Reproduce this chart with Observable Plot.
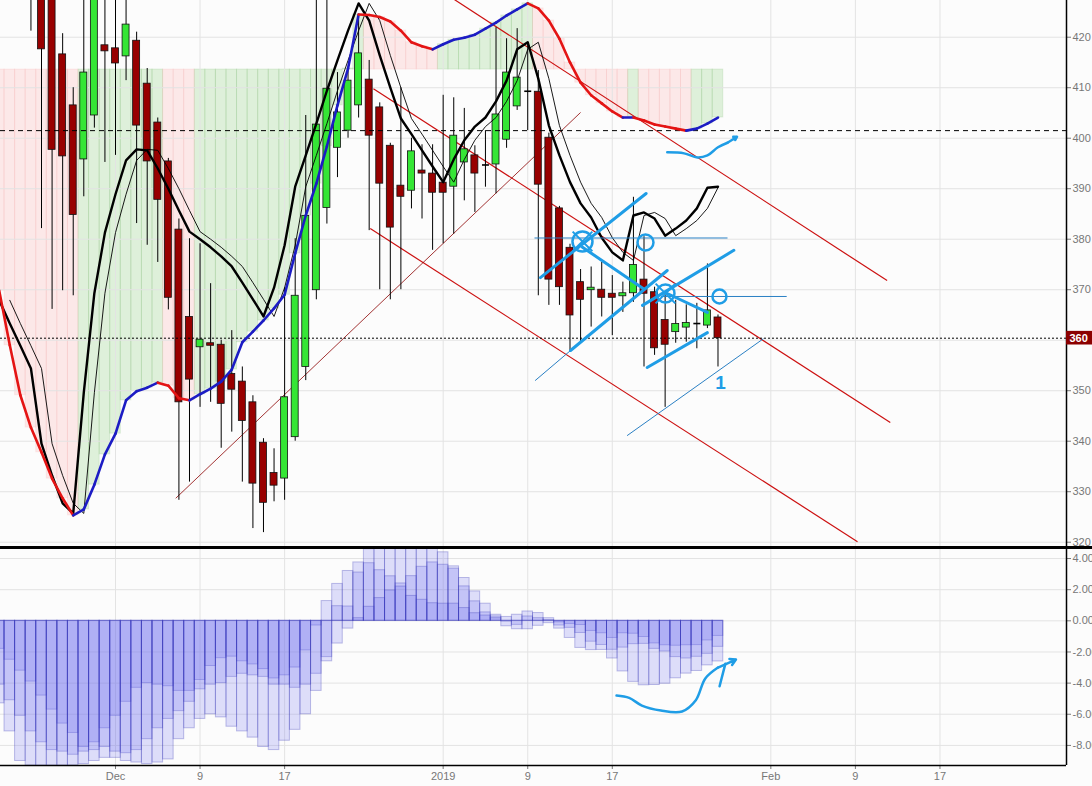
<!DOCTYPE html>
<html><head><meta charset="utf-8">
<script src="https://cdn.jsdelivr.net/npm/d3@7"></script>
<script src="https://cdn.jsdelivr.net/npm/@observablehq/plot@0.6"></script>
<style>
html,body{margin:0;padding:0;background:#fcfcfc;overflow:hidden;}
#wrap{width:1092px;height:786px;overflow:hidden;}
.sep{width:1092px;height:3px;background:#000;}
svg{display:block;}
</style></head><body><div id="wrap"></div>
<script>
// ---------- DATA ----------
const baseDate = "2018-12-01";          // day offset 0
const candleStart = "2018-11-23";       // first candle
const lineStart = "2018-11-20";         // first indicator value

const opens  = [432,432,430,416.6,406.5,395.8,404.5,418.4,417.8,416.2,419.3,410.8,403.1,395.4,381.9,364.6,358.6,359.4,359.1,353.3,351.8,347.7,339.7,333.7,332.6,340.8,354.7,369.9,386.2,398.1,401.5,406.5,411.6,406.1,398.5,390.6,389.6,393.6,393.0,391.2,390.4,395.2,396.6,394.8,394.8,399.7,406.3,409.2,409.2,400.1,386.1,378.3,371.5,369.9,370.0,369.2,368.7,369.3,372.0,369.5,364.0,361.6,362.5,363.2,362.9,364.5];
const highs  = [436,434,432,420.7,410,432,435,432,432,432,421,413.8,404,396,384,380.1,379.1,371.2,360,361.9,354.7,349,340.5,338.5,370.4,380.1,404.5,432,432,413,413.5,424,415.4,407,399,410,400,398.7,398.7,408.5,408.0,405.9,398.5,401.5,421.9,419.7,421.7,418.7,413.4,401,386.5,379,374,374.5,375.4,372.8,371.5,388.3,380.5,370.5,369.2,367.9,367,367.3,375.1,365];
const lows   = [421.2,382.1,366.1,369.8,368.8,388.4,402,395.2,396.6,411.4,383.1,378.8,375.4,366,328.3,331.9,346.7,347.7,338.6,341.8,331.9,322.7,321.9,328.0,328.3,340,352,368,383,392.2,400,404,381.7,370,368,370,386,384.0,377.8,379.1,381,387.6,385.3,390.3,389.0,398,405.5,401.5,368.8,366.9,366.9,357.6,359.6,362.6,364.6,360.9,365.5,367.5,354.7,357,346.7,359.4,359.6,358.3,362.3,354.7];
const closes = [428,417.6,397.7,396.4,384.8,413.0,432,417.2,414.8,422.5,402.5,395.4,387.8,368.4,347.7,352.2,360.1,358.9,347.4,350.2,344.0,331.6,327.8,331.2,348.7,368.8,384.6,402.7,409.8,405.1,411.4,416.8,400.5,391.0,382.3,388.4,397.4,393.0,389.2,389.2,400.5,397.8,393.0,394.7,404.7,413.0,412.0,409.3,390.8,372.0,370.5,364.9,368.0,370.4,368.4,368.4,369.3,374.9,369.2,358.4,359.1,363.2,363.4,363.3,365.9,360.4];

// fast (thick black) line, Nov 20 .. Jan 27
const fastLine = [367.9,363.3,358.9,354.4,339.5,333.2,327.7,325.7,349.6,369.3,381.3,388.9,395.6,397.8,397.6,394.0,390.0,385.7,381.5,380.0,378.4,376.6,374.6,371.4,368.1,364.7,370.4,378.8,390.4,396.6,402.9,409.4,415.4,421.3,426.7,423.3,416.4,410.0,403.9,400.8,397.6,394.4,391.3,395.8,399.6,402.3,404.1,407.3,411.4,417.6,419.0,411.8,402.5,396.6,391.3,387.1,384.3,380.3,377.4,375.8,384.7,385.3,384.1,380.7,382.1,383.7,386.1,390.2,390.4];
// trend (red/blue) line, Nov 20 .. Jan 27
const trendLine = [369.8,359.0,349.1,342.7,337.8,332.6,328.7,325.3,326.5,331.4,337.4,341.5,348.1,349.9,350.6,351.6,351.0,348.5,348.1,349.3,350.4,351.8,354.2,359.6,361.7,363.9,366.3,369.0,377.2,384.7,391.0,398.4,406.5,413.8,424.5,424.4,424.0,423.1,421.3,419.0,418.2,417.6,418.6,419.5,419.9,420.5,421.7,422.9,424.3,425.5,426.7,425.7,423.3,419.7,415.0,411.0,408.5,406.9,405.3,404.1,404.1,403.5,402.7,402.3,401.9,401.5,401.9,402.9,404.1];
const cloudLevel = 413.6;
const dashedLevel = 401.5;

// oscillator histograms, Nov 20 .. Jan 27
const oscA = [-1.8,-2.5,-3.2,-3.9,-4.8,-5.7,-6.6,-7.2,-8.1,-7.8,-6.9,-6.1,-5.2,-4.3,-4.0,-4.1,-4.2,-4.5,-4.5,-3.8,-2.9,-2.4,-2.3,-2.6,-2.8,-3.1,-3.7,-3.5,-3.0,-1.9,-0.3,1.27,2.37,3.2,3.75,4.6,4.8,4.8,4.8,4.8,4.8,4.8,4.4,3.5,2.75,1.89,1.1,0.39,0.25,0.39,0.6,0.5,0.17,-0.1,-0.2,-0.27,-0.65,-0.8,-1.1,-0.8,-0.83,-1.04,-1.45,-1.57,-1.6,-1.57,-1.56,-1.26,-0.97];
const oscB = [-4.1,-5.1,-6.1,-7.1,-7.8,-8.3,-8.4,-8.6,-8.4,-8.3,-8.1,-8.4,-8.5,-8.3,-7.6,-6.9,-6.3,-5.8,-5.2,-4.4,-4.1,-4.0,-3.6,-3.4,-3.5,-3.6,-4.1,-4.1,-4.3,-4.1,-3.4,-2.33,0.94,0.92,3.1,3.7,3.25,2.86,2.4,2.87,3.47,3.75,3.6,3.35,2.21,1.25,0.54,0.28,-0.05,-0.26,0.28,0.17,0.05,-0.3,-0.45,-0.78,-1.34,-1.55,-1.86,-1.72,-1.5,-1.48,-1.8,-1.97,-2.33,-2.42,-2.31,-2.12,-1.67];
const oscC = [-5.3,-7.1,-9.0,-9.3,-9.3,-9.3,-9.3,-9.3,-9.2,-9.0,-8.8,-8.8,-9.0,-9.1,-9.2,-9.1,-8.9,-7.6,-6.9,-6.3,-6.0,-6.2,-6.8,-7.1,-7.5,-8.1,-8.3,-7.7,-7.0,-6.0,-4.5,-2.6,-1.46,-0.5,0.17,0.9,1.46,1.95,2.2,1.6,1.35,1.13,1.1,1.1,0.82,0.49,0.34,0.17,-0.35,-0.54,-0.54,-0.32,-0.15,-0.5,-1.1,-1.74,-1.88,-1.87,-2.42,-3.25,-3.92,-4.14,-4.12,-4.04,-3.69,-3.39,-3.22,-2.86,-2.61];

const priceTicks = [320,330,340,350,360,370,380,390,400,410,420];
const oscTicks = [-8,-6,-4,-2,0,2,4];
const xTickDates = ["2018-12-01","2018-12-09","2018-12-17","2019-01-01","2019-01-09","2019-01-17","2019-02-01","2019-02-09","2019-02-17"];
const xTickLabels = ["Dec","9","17","2019","9","17","Feb","9","17"];

// drawn annotations (day offset from Dec 1, price)
const redChannel = [[31,428.9,73,371.8],[24.4,409.8,73.3,343.7],[24.1,382.1,70.2,320.1]];
const redSupport = [[5.7,328.7,44.0,405.1]];
const blueThick = [[40.2,372.4,50.2,389.05],[43.05,357.96,52.2,373.8],[49.86,366.9,58.5,377.8],[44.18,378.4,49.95,370.2],[52.2,369.25,56.0,365.5],[50.3,354.6,56.0,361.5]];
const blueThin = [[39.64,380.24,57.9,380.24],[51.6,368.66,63.5,368.66],[39.7,352.0,43.05,357.96],[48.4,341.1,61.3,360.3]];
const blueCircles = [[44.18,379.55,10,1],[50.14,379.35,8,0],[52.03,369.25,9,1],[57.14,368.66,7,0]];
const blueLabel = [[57.24,351.6,"1"]];
const upArrowD = [52.2,53.8,55.05,56.0,57.0,57.9];
const upArrowP = [397.2,397.0,396.2,396.6,398.2,399.1];
const upArrowHead = [[57.9,399.1,58.8,400.3]];
const lowArrowD = [47.4,48.6,49.8,51.6,53.6,54.9,55.8,57.0];
const lowArrowV = [-4.8,-4.95,-5.44,-5.76,-5.82,-5.1,-3.7,-3.0];
const lowArrowHead = [[57.0,-3.0,58.7,-2.49]];
const lowArrowTick = [[57.15,-4.2,57.7,-2.75]];

// ---------- BUILD ----------
const day0 = new Date(baseDate);
const off = s => d3.utcDay.count(day0, new Date(s));
const c0 = off(candleStart), l0 = off(lineStart);
const candles = opens.map((o,i)=>({d:c0+i, open:o, high:highs[i], low:lows[i], close:closes[i]}));
const bodies = candles.filter(c=>Math.abs(c.close-c.open)>=0.3);
const dojis = candles.filter(c=>Math.abs(c.close-c.open)<0.3);
const fastRows = fastLine.map((v,i)=>({d:l0+i, v}));
const slowRows = fastLine.slice(0,-1).map((v,i)=>({d:l0+i+1, v}));
const trendRows = trendLine.map((v,i)=>({d:l0+i, v, up: i===0 ? false : v>=trendLine[i-1]}));
const trendSegs = trendRows.slice(1).map((r,i)=>({d1:trendRows[i].d, v1:trendRows[i].v, d2:r.d, v2:r.v, up:r.v>=trendRows[i].v}));
const oscRows = oscA.map((a,i)=>({d:l0+i, a, b:oscB[i], c:oscC[i]}));
const xTickDays = xTickDates.map(off);
const labelOf = new Map(xTickDays.map((d,i)=>[d,xTickLabels[i]]));
const seg = a => a.map(([x1,y1,x2,y2])=>({x1,y1,x2,y2}));
const lastClose = closes[closes.length-1];

const PX = 10.57, LEFT = 115, FRAME_R = 1066;
const xMin = -LEFT/PX, xMax = (FRAME_R-LEFT)/PX;

const font = "Liberation Sans, Arial, Helvetica, sans-serif";
const BLUE = "#1f9de6", BLUE_THIN = "#2a80c4";
const GRID = "#e3e3e3";

const upper = Plot.plot({
  width:1092, height:546, marginLeft:0, marginRight:26, marginTop:0, marginBottom:0,
  x:{domain:[xMin,xMax], axis:null},
  y:{domain:[319.15,427.27], axis:"right", ticks:priceTicks, tickSize:4, tickPadding:2, label:null, tickFormat:d=> d===360 ? "" : String(d)},
  color:{type:"identity"},
  style:{background:"#fcfcfc", color:"#777", fontFamily:font, fontSize:"11px", overflow:"hidden"},
  marks:[
    Plot.rect(trendRows.filter(r=>r.up), {x1:r=>r.d-0.5, x2:r=>r.d+0.5, y1:cloudLevel, y2:"v", fill:"rgb(120,200,100)", fillOpacity:0.22, stroke:"rgb(110,180,100)", strokeOpacity:0.18, strokeWidth:1, clip:true}),
    Plot.rect(trendRows.filter(r=>!r.up), {x1:r=>r.d-0.5, x2:r=>r.d+0.5, y1:cloudLevel, y2:"v", fill:"rgb(255,120,120)", fillOpacity:0.15, stroke:"rgb(240,150,150)", strokeOpacity:0.15, strokeWidth:1, clip:true}),
    Plot.ruleY(priceTicks, {stroke:GRID}),
    Plot.ruleX(xTickDays, {stroke:GRID}),
    Plot.link(seg(redChannel), {x1:"x1",y1:"y1",x2:"x2",y2:"y2", stroke:"#cc1010", strokeWidth:1.2, clip:true}),
    Plot.link(seg(redSupport), {x1:"x1",y1:"y1",x2:"x2",y2:"y2", stroke:"#8b0000", strokeWidth:0.8, clip:true}),
    Plot.ruleX(candles, {x:"d", y1:"low", y2:"high", stroke:"#000", strokeWidth:1, clip:true}),
    Plot.rect(bodies, {x1:c=>c.d-0.33, x2:c=>c.d+0.33, y1:"open", y2:"close", fill:c=>c.close>=c.open?"#35e635":"#980000", stroke:"#111", strokeWidth:0.8, clip:true}),
    Plot.link(dojis, {x1:c=>c.d-0.33, x2:c=>c.d+0.33, y1:"close", y2:"close", stroke:"#000", strokeWidth:1.6, clip:true}),
    Plot.ruleY([dashedLevel], {stroke:"#000", strokeWidth:1, strokeDasharray:"5,4"}),
    Plot.ruleY([lastClose], {stroke:"#000", strokeWidth:1, strokeDasharray:"2,2"}),
    Plot.line(slowRows, {x:"d", y:"v", stroke:"#000", strokeWidth:0.9, clip:true}),
    Plot.line(fastRows, {x:"d", y:"v", stroke:"#000", strokeWidth:2.4, clip:true}),
    Plot.link(trendSegs, {x1:"d1", y1:"v1", x2:"d2", y2:"v2", stroke:s=>s.up?"#1c1cc4":"#e41414", strokeWidth:2.6, strokeLinecap:"round", clip:true}),
    Plot.link(seg(blueThin), {x1:"x1",y1:"y1",x2:"x2",y2:"y2", stroke:BLUE_THIN, strokeWidth:1, clip:true}),
    Plot.link(seg(blueThick), {x1:"x1",y1:"y1",x2:"x2",y2:"y2", stroke:BLUE, strokeWidth:3, strokeLinecap:"round", clip:true}),
    ...blueCircles.map(([d,p,r])=>Plot.dot([[d,p]], {x:a=>a[0], y:a=>a[1], r, stroke:BLUE, strokeWidth:2.5, fill:"none"})),
    Plot.dot(blueCircles.filter(c=>c[3]), {x:a=>a[0], y:a=>a[1], r:9, symbol:"times", stroke:BLUE, strokeWidth:2}),
    Plot.text(blueLabel, {x:a=>a[0], y:a=>a[1], text:a=>a[2], fill:BLUE, fontSize:19, fontWeight:"bold"}),
    Plot.line(upArrowD.map((d,i)=>[d,upArrowP[i]]), {x:a=>a[0], y:a=>a[1], stroke:BLUE, strokeWidth:2.5, curve:"catmull-rom"}),
    Plot.arrow(seg(upArrowHead), {x1:"x1",y1:"y1",x2:"x2",y2:"y2", stroke:BLUE, strokeWidth:2.5, headLength:10}),
    Plot.ruleX([xMax], {stroke:"#000", strokeWidth:1.5}),
    Plot.rect([lastClose], {x1:xMax, x2:xMax+2.6, y1:v=>v-1.35, y2:v=>v+1.35, fill:"#8b0000"}),
    Plot.text([lastClose], {x:xMax, y:v=>v, dx:3, text:v=>String(Math.floor(v)), textAnchor:"start", fill:"#fff", fontWeight:"bold", fontSize:11})
  ]
});

const lower = Plot.plot({
  width:1092, height:237, marginLeft:0, marginRight:26, marginTop:0, marginBottom:21,
  x:{domain:[xMin,xMax], axis:"bottom", ticks:xTickDays, tickFormat:d=>labelOf.get(d), tickSize:4, tickPadding:3, label:null},
  y:{domain:[-9.29,4.58], axis:"right", ticks:oscTicks, tickFormat:d=>d.toFixed(2), tickSize:4, tickPadding:2, label:null},
  color:{type:"identity"},
  style:{background:"#fcfcfc", color:"#777", fontFamily:font, fontSize:"11px", overflow:"hidden"},
  marks:[
    Plot.ruleY(oscTicks, {stroke:GRID}),
    Plot.ruleX(xTickDays, {stroke:GRID}),
    ...["a","b","c"].map(k=>Plot.rect(oscRows, {x1:r=>r.d-0.5, x2:r=>r.d+0.5, y1:0, y2:k, fill:"rgb(100,100,240)", fillOpacity:0.2, stroke:"rgb(50,50,180)", strokeOpacity:0.3, strokeWidth:1, clip:true})),
    Plot.line(lowArrowD.map((d,i)=>[d,lowArrowV[i]]), {x:a=>a[0], y:a=>a[1], stroke:BLUE, strokeWidth:2.5, curve:"catmull-rom"}),
    Plot.arrow(seg(lowArrowHead), {x1:"x1",y1:"y1",x2:"x2",y2:"y2", stroke:BLUE, strokeWidth:2.5, headLength:10}),
    Plot.link(seg(lowArrowTick), {x1:"x1",y1:"y1",x2:"x2",y2:"y2", stroke:BLUE, strokeWidth:2.5, strokeLinecap:"round"}),
    Plot.ruleY([-9.29], {stroke:"#000", strokeWidth:1.5}),
    Plot.ruleX([xMax], {stroke:"#000", strokeWidth:1.5})
  ]
});

const wrap = document.getElementById("wrap");
wrap.appendChild(upper);
const sep = document.createElement("div"); sep.className = "sep";
wrap.appendChild(sep);
wrap.appendChild(lower);
</script></body></html>
